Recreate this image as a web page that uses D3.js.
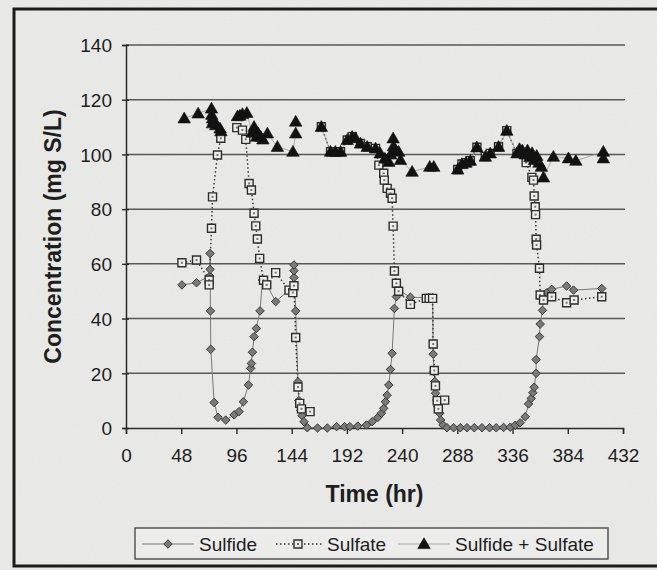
<!DOCTYPE html>
<html>
<head>
<meta charset="utf-8">
<script src="https://cdn.jsdelivr.net/npm/d3@7"></script>
<style>
  html, body { margin: 0; padding: 0; background: #e8e8e6; }
  svg { display: block; }
  text { font-family: "Liberation Sans", Arial, sans-serif; fill: #1e1e1e; }
</style>
</head>
<body>
<svg id="chart" width="657" height="570"></svg>
<script>
// Time axis ticks (hr) and concentration ticks (mg S/L)
const xTicks = [0, 48, 96, 144, 192, 240, 288, 336, 384, 432];
const yTicks = [0, 20, 40, 60, 80, 100, 120, 140];

// Sulfide measurements
const sulfideTime = [48.6, 61.3, 72.8, 73.1, 73.1, 73.4, 73.7, 76.6, 80.0, 86.7, 94.0, 98.3, 102.0, 106.4, 108.4, 109.0, 109.9, 111.3, 113.3, 116.5, 118.6, 121.0, 130.1, 141.7, 146.0, 146.0, 146.0, 147.5, 149.5, 150.3, 151.2, 152.0, 153.0, 154.7, 157.6, 166.5, 175.0, 183.0, 190.0, 194.6, 201.5, 209.0, 214.0, 218.9, 222.0, 224.0, 225.5, 227.0, 228.4, 229.9, 231.3, 233.3, 235.0, 237.0, 247.2, 263.0, 266.5, 267.0, 267.5, 268.5, 269.0, 270.0, 271.0, 272.7, 273.5, 275.6, 279.0, 284.8, 290.6, 296.4, 302.7, 309.4, 316.0, 321.8, 328.2, 334.0, 338.3, 342.6, 347.0, 349.9, 352.2, 353.6, 354.8, 356.5, 356.5, 359.4, 360.0, 362.0, 363.0, 366.0, 370.0, 383.0, 389.0, 413.5];
const sulfideConc = [52.3, 53.1, 55.5, 58.0, 63.8, 42.8, 28.8, 9.3, 3.9, 2.9, 4.8, 6.0, 9.6, 15.7, 21.8, 23.6, 27.7, 33.4, 36.4, 42.8, 54.1, 53.5, 46.2, 50.4, 55.0, 57.5, 59.6, 42.8, 16.9, 10.0, 8.0, 6.5, 4.5, 2.3, 0.1, 0.0, 0.0, 0.5, 0.5, 0.5, 0.7, 1.1, 2.3, 3.9, 5.4, 7.2, 9.6, 12.0, 15.7, 21.4, 27.3, 43.7, 48.0, 50.4, 47.8, 47.6, 47.6, 27.0, 20.6, 17.0, 12.7, 10.2, 7.8, 5.4, 2.9, 1.1, 0.1, 0.1, 0.1, 0.1, 0.1, 0.1, 0.1, 0.1, 0.2, 0.3, 1.0, 1.9, 4.1, 8.8, 10.8, 12.9, 14.9, 20.0, 25.0, 33.4, 38.0, 43.0, 48.5, 49.5, 50.7, 51.9, 50.4, 51.0];

// Sulfate measurements (null marks a break between sampling runs)
const sulfateTime = [48.6, 61.3, 72.3, 72.3, 74.3, 75.2, 79.5, 82.4, 90, 96.3, 101.2, 104.1, 107.0, 109.0, 111.3, 112.8, 114.2, 116.2, 119.5, 122.3, 130.1, 141.7, 145.0, 146.0, 147.5, 149.5, 151.0, 152.5, 160.0, 165, 169.8, 177.8, 182.0, 186.5, 192.3, 196.6, 203.8, 209.7, 216.9, 219.8, 224.0, 224.5, 227.0, 229.9, 231.3, 232.2, 233.3, 235.0, 237.0, 247.2, 261.0, 263.5, 266.5, 267.0, 268.0, 269.0, 270.5, 271.5, 277.0, 282, 288.3, 292.0, 295.5, 299.3, 305.0, 312.3, 316.6, 323.8, 331.0, 339.8, 347.8, 352.8, 354.2, 354.8, 355.7, 356.0, 356.5, 356.9, 359.4, 360.0, 362.9, 370.0, 383.0, 389.5, 413.5];
const sulfateConc = [60.4, 61.4, 54.1, 52.3, 73.0, 84.5, 99.8, 105.9, null, 109.8, 108.9, 105.5, 89.4, 87.0, 78.5, 73.9, 69.1, 62.0, 54.0, 52.3, 56.8, 50.4, 49.5, 52.0, 33.1, 15.0, 9.0, 7.0, 6.0, null, 110.1, 101.0, 101.0, 101.0, 105.3, 106.5, 104.0, 102.8, 102.2, 96.1, 93.1, 90.6, 87.6, 85.8, 84.0, 73.8, 57.4, 52.9, 50.0, 45.2, 47.4, 47.4, 47.4, 30.7, 21.0, 15.4, 10.0, 7.0, 10.2, null, 94.5, 96.5, 97.0, 97.7, 102.6, 99.2, 100.4, 102.8, 108.7, 100.4, 97.0, 91.6, 90.6, 84.8, 80.9, 78.0, 69.0, 66.9, 58.4, 48.6, 46.8, 48.0, 45.8, 46.8, 48.0];

// Sulfide + Sulfate measurements
const totalTime = [50.6, 62.7, 74.3, 74.5, 75.2, 75.2, 76.5, 78.0, 81.8, 82.5, 90, 96.9, 99.0, 101.2, 105.0, 109.5, 111.3, 112.5, 113.5, 115.0, 117.1, 119.0, 122.9, 131.6, 145.1, 147.5, 147.5, 160, 169.8, 177.8, 182.0, 186.5, 192.3, 196.6, 199.5, 203.8, 209.7, 216.9, 221.0, 225.0, 228.4, 230.0, 232.2, 232.5, 234.5, 237.0, 238.6, 248.7, 264.0, 267.5, 280, 288.3, 292.0, 295.5, 299.3, 305.0, 312.3, 316.6, 323.8, 331.0, 339.8, 342.0, 344.5, 347.0, 349.0, 351.0, 353.0, 355.0, 357.0, 359.0, 361.0, 362.9, 371.5, 384.6, 391.0, 414.9, 414.9];
const totalConc = [113.2, 115.0, 116.8, 114.5, 113.2, 111.4, 112.5, 110.7, 109.5, 108.5, null, 114.0, 114.2, 114.8, 115.2, 108.0, 110.1, 108.5, 106.5, 107.7, 106.5, 105.5, 107.7, 102.8, 101.0, 107.7, 112.0, null, 110.1, 101.0, 101.0, 101.0, 105.3, 106.5, 106.0, 104.0, 102.8, 102.2, 100.4, 98.5, 97.3, 100.0, 105.9, 103.0, 101.5, 101.0, 98.0, 93.7, 95.5, 95.5, null, 94.5, 96.5, 97.0, 97.7, 102.6, 99.2, 100.4, 102.8, 108.7, 100.4, 102.0, 101.5, 100.0, 101.5, 99.0, 100.5, 98.0, 99.5, 97.0, 95.5, 91.6, 99.2, 98.6, 97.7, 101.0, 98.6];

const svg = d3.select("#chart");
const W = 657, H = 570;

// paper background with a fine grain
const defs = svg.append("defs");
const grain = defs.append("filter").attr("id", "grain").attr("x", 0).attr("y", 0).attr("width", 1).attr("height", 1);
grain.append("feTurbulence").attr("type", "fractalNoise").attr("baseFrequency", 0.8).attr("numOctaves", 2).attr("seed", 7).attr("result", "n");
grain.append("feColorMatrix").attr("type", "matrix")
  .attr("values", "0 0 0 0 0.4  0 0 0 0 0.4  0 0 0 0 0.39  0 0 0 0.09 0");
svg.append("rect").attr("width", W).attr("height", H).attr("fill", "#ebebe9");
svg.append("rect").attr("width", W).attr("height", H).attr("filter", "url(#grain)");

// outer frame
svg.append("rect").attr("x", 14).attr("y", 9).attr("width", 700).attr("height", 557)
  .attr("fill", "none").attr("stroke", "#1c1c1c").attr("stroke-width", 3);

const x = d3.scaleLinear().domain([0, 432]).range([126, 623]);
const y = d3.scaleLinear().domain([0, 140]).range([428, 45]);

// horizontal gridlines
svg.append("g").selectAll("line").data(yTicks.filter(v => v > 0)).join("line")
  .attr("x1", x(0)).attr("x2", x(432) + 2)
  .attr("y1", d => y(d)).attr("y2", d => y(d))
  .attr("stroke", "#585858").attr("stroke-width", 1.5);

// y axis
const yAxis = svg.append("g").attr("transform", `translate(${x(0)},0)`)
  .call(d3.axisLeft(y).tickValues(yTicks).tickSizeOuter(0).tickSize(4).tickPadding(10));
yAxis.select(".domain").attr("stroke", "#2a2a2a").attr("stroke-width", 1.5);
yAxis.selectAll(".tick line").attr("x1", 3).attr("x2", -4).attr("stroke", "#2a2a2a").attr("stroke-width", 1.4);
yAxis.selectAll(".tick text").attr("font-size", 19).attr("fill", "#1e1e1e")
  .attr("font-family", "Liberation Sans, Arial, sans-serif").attr("dy", "0.36em");

// x axis
const xAxis = svg.append("g").attr("transform", `translate(0,${y(0)})`)
  .call(d3.axisBottom(x).tickValues(xTicks).tickSizeOuter(0).tickSize(6).tickPadding(10));
xAxis.select(".domain").attr("stroke", "#2a2a2a").attr("stroke-width", 1.5);
xAxis.selectAll(".tick line").attr("stroke", "#2a2a2a").attr("stroke-width", 1.4);
xAxis.selectAll(".tick text").attr("font-size", 19).attr("fill", "#1e1e1e")
  .attr("font-family", "Liberation Sans, Arial, sans-serif").attr("dy", "0.95em");

// axis titles
svg.append("text").attr("x", (x(0) + x(432)) / 2).attr("y", 502)
  .attr("text-anchor", "middle").attr("font-size", 23).attr("font-weight", "bold")
  .text("Time (hr)");
svg.append("text").attr("transform", `translate(61,${(y(0) + y(140)) / 2}) rotate(-90)`)
  .attr("text-anchor", "middle").attr("font-size", 23).attr("font-weight", "bold")
  .text("Concentration (mg S/L)");

function pairs(ts, vs) { return ts.map((t, i) => ({ t, v: vs[i] })); }
const sulfide = pairs(sulfideTime, sulfideConc);
const sulfate = pairs(sulfateTime, sulfateConc);
const total = pairs(totalTime, totalConc);

const line = d3.line().defined(d => d.v !== null).x(d => x(d.t)).y(d => y(d.v));

const plot = svg.append("g");
plot.append("path").datum(sulfide).attr("d", line).attr("fill", "none")
  .attr("stroke", "#7a7a7a").attr("stroke-width", 1);
plot.append("path").datum(sulfate).attr("d", line).attr("fill", "none")
  .attr("stroke", "#3a3a3a").attr("stroke-width", 1.5).attr("stroke-dasharray", "1.5,2.5");
plot.append("path").datum(total).attr("d", line).attr("fill", "none")
  .attr("stroke", "#9a9a9a").attr("stroke-width", 0.8);

const diamond = d3.symbol().type(d3.symbolDiamond2).size(46);
const square = d3.symbol().type(d3.symbolSquare).size(64);
const triangle = d3.symbol().type(d3.symbolTriangle).size(68);

function drawDiamonds(g, data) {
  g.selectAll("path.sd").data(data.filter(d => d.v !== null)).join("path").attr("class", "sd")
    .attr("transform", d => `translate(${x(d.t)},${y(d.v)})`)
    .attr("d", diamond).attr("fill", "#7a7a7a").attr("stroke", "#3a3a3a").attr("stroke-width", 1);
}
function drawSquares(g, data) {
  const s = g.selectAll("g.sq").data(data.filter(d => d.v !== null)).join("g").attr("class", "sq")
    .attr("transform", d => `translate(${x(d.t)},${y(d.v)})`);
  s.append("path").attr("d", square).attr("fill", "#eeeeec").attr("stroke", "#2e2e2e").attr("stroke-width", 1.4);
  s.append("rect").attr("x", -1).attr("y", -1).attr("width", 2).attr("height", 2).attr("fill", "#777");
}
function drawTriangles(g, data) {
  g.selectAll("path.tr").data(data.filter(d => d.v !== null)).join("path").attr("class", "tr")
    .attr("transform", d => `translate(${x(d.t)},${y(d.v) + 1})`)
    .attr("d", triangle).attr("fill", "#121212").attr("stroke", "#121212").attr("stroke-width", 0.6);
}
drawDiamonds(plot.append("g"), sulfide);
drawSquares(plot.append("g"), sulfate);
drawTriangles(plot.append("g"), total);

// legend
const legend = svg.append("g");
legend.append("rect").attr("x", 135).attr("y", 528).attr("width", 473).attr("height", 31)
  .attr("fill", "#ececea").attr("stroke", "#555").attr("stroke-width", 1.5);
const ly = 544;
const items = [
  { name: "Sulfide", x1: 142, x2: 194, mx: 168, tx: 199 },
  { name: "Sulfate", x1: 276, x2: 323, mx: 298, tx: 327 },
  { name: "Sulfide + Sulfate", x1: 398, x2: 450, mx: 424, tx: 455 }
];
legend.append("line").attr("x1", items[0].x1).attr("x2", items[0].x2).attr("y1", ly).attr("y2", ly)
  .attr("stroke", "#7a7a7a").attr("stroke-width", 1);
legend.append("line").attr("x1", items[1].x1).attr("x2", items[1].x2).attr("y1", ly).attr("y2", ly)
  .attr("stroke", "#3a3a3a").attr("stroke-width", 1.5).attr("stroke-dasharray", "1.5,2.5");
legend.append("line").attr("x1", items[2].x1).attr("x2", items[2].x2).attr("y1", ly).attr("y2", ly)
  .attr("stroke", "#9a9a9a").attr("stroke-width", 0.8);
drawDiamonds(legend.append("g"), [{ t: x.invert(items[0].mx), v: y.invert(ly) }]);
drawSquares(legend.append("g"), [{ t: x.invert(items[1].mx), v: y.invert(ly) }]);
drawTriangles(legend.append("g"), [{ t: x.invert(items[2].mx), v: y.invert(ly) }]);
legend.selectAll("text").data(items).join("text")
  .attr("x", d => d.tx).attr("y", ly + 7).attr("font-size", 19).text(d => d.name);
</script>
</body>
</html>
